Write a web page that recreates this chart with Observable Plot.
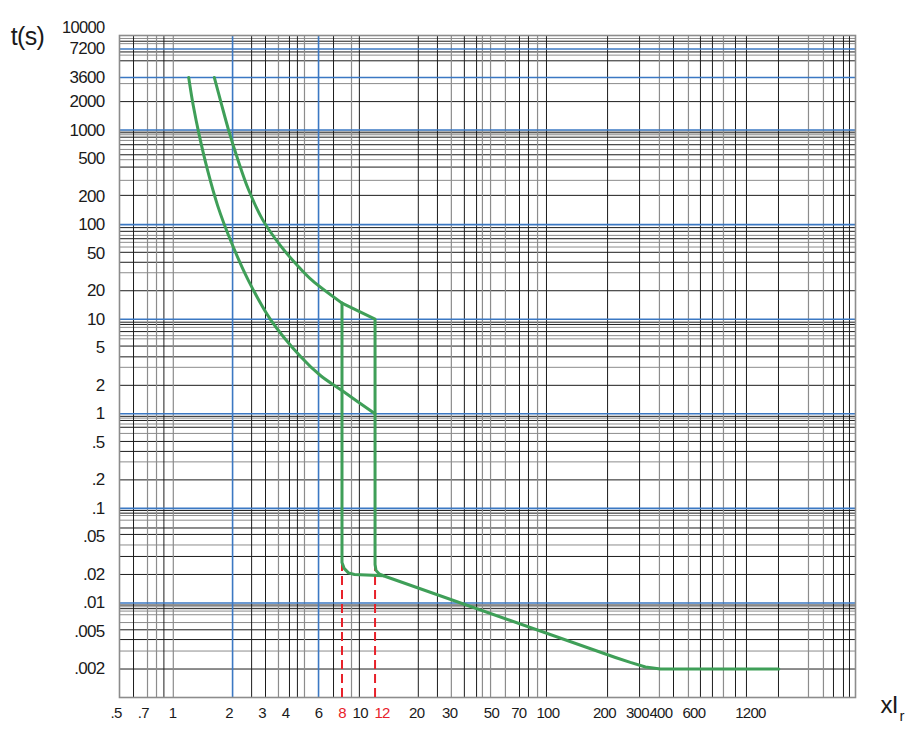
<!DOCTYPE html>
<html><head><meta charset="utf-8">
<script src="https://cdn.jsdelivr.net/npm/d3@7"></script>
<script src="https://cdn.jsdelivr.net/npm/@observablehq/plot@0.6"></script>
<style>html,body{margin:0;padding:0;background:#fff;} #chart svg{display:block;}</style>
</head><body><div id="chart"></div>
<script>
// ---- tick labels ----
const xTickValues = [0.5, 0.7, 1, 2, 3, 4, 6, 10, 20, 30, 50, 70, 100, 200, 300, 400, 600, 1200];
const xTickRedCentered = [8];
const xTickRedShifted = [12];
const yTickValues = [7200, 3600, 2000, 1000, 500, 200, 100, 50, 20, 10, 5, 2, 1, 0.5, 0.2, 0.1, 0.05, 0.02, 0.01, 0.005, 0.002];
const yTickTop = [10000];

// ---- grid lines ----
const xGridBlack = [0.62, 0.9, 2.64, 3.13, 4.2, 4.63, 7.21, 9.9, 20.4, 25.8, 35.9, 41.7, 70.6, 78.8, 98.3, 208, 308, 467, 650, 753, 999, 1143, 1693, 3324, 3758, 4045];
const xGridGray = [0.736, 0.822, 1.01, 3.67, 5.05, 8.99, 30.6, 44.8, 49.5, 59.4, 88.1, 393, 561, 862, 2446, 2939];
const xGridBlue = [2.09, 6.0];

const yGridBlue = [7200, 3600, 1000, 100, 10, 1, 0.1, 0.01];
const yGridBlack = [0.002, 0.0041, 0.0052, 0.0087, 0.0095, 0.02, 0.031, 0.053, 0.062, 0.089, 0.095,
  0.2, 0.4, 0.51, 0.72, 0.85, 0.94, 2, 4, 5.2, 7.4, 8.8, 9.3, 20, 40, 51, 71, 85, 93,
  204, 406, 548, 700, 841, 936, 2000, 5400, 6700, 8700];
const yGridGray = [0.0031, 0.0062, 0.0075, 0.0082, 0.0091, 0.041, 0.075, 0.084,
  0.31, 0.62, 0.78, 0.9, 3.1, 6.2, 6.7, 8.2, 31, 58, 65, 77,
  294, 486, 624, 777, 892, 973, 3100, 6200, 8200, 9300];

// ---- curves (x = multiple of Ir, t = seconds) ----
const upperX = [1.67, 1.82, 1.99, 2.22, 2.54, 3.02, 3.76, 4.58, 5.55, 8];
const upperT = [3600, 1905, 1000, 500, 235, 113, 60, 37.9, 25.7, 14.8];

const lowerX = [1.22, 1.29, 1.39, 1.54, 1.74, 2.04, 2.54, 3.33, 4.81, 6.14, 8, 12];
const lowerT = [3600, 1816, 873, 372, 159, 67.9, 25.6, 9.9, 4.03, 2.54, 1.76, 1.0];

const tailX = [8, 12, 12, 12.14, 12.6, 13.3, 229, 275, 331, 398, 1700];
const tailT = [14.8, 10, 0.0255, 0.0221, 0.0203, 0.0194, 0.00265, 0.00235, 0.0021, 0.002, 0.002];

const dropX = [8, 8, 8.21, 8.66, 9.32, 13.3];
const dropT = [14.8, 0.0268, 0.0232, 0.0208, 0.02, 0.0194];

const dashX = [8, 12];
const dashFrom = [0.001, 0.001];
const dashTo = [0.026, 0.025];

const rows = (xs, ts) => xs.map((x, i) => ({x, t: ts[i]}));
const dashRows = dashX.map((x, i) => ({x, t1: dashFrom[i], t2: dashTo[i]}));

const fmt = d => (d < 1 ? String(d).replace(/^0/, "") : String(d));

const green = "#3f9f58";
const red = "#e8212a";
const blue = "#3b78c3";
const black = "#1c1c1c";
const gray = "#8c8c8c";
const ink = "#1a1a1a";

const chart = Plot.plot({
  width: 911,
  height: 737,
  marginTop: 35,
  marginBottom: 40,
  marginLeft: 119,
  marginRight: 56,
  style: {fontFamily: "'Liberation Sans', Arial, sans-serif", fontSize: "16px", letterSpacing: "-0.7px", color: ink, background: "#fff"},
  x: {type: "log", domain: [0.522, 4355], axis: null},
  y: {type: "log", domain: [0.001, 10000], axis: null},
  marks: [
    Plot.ruleY(yGridGray, {stroke: gray, strokeWidth: 1}),
    Plot.ruleY(yGridBlack, {stroke: black, strokeWidth: 1}),
    Plot.ruleX(xGridGray, {stroke: gray, strokeWidth: 1.2}),
    Plot.ruleX(xGridBlack, {stroke: black, strokeWidth: 1}),
    Plot.ruleY(yGridBlue, {stroke: blue, strokeWidth: 1.6}),
    Plot.ruleX(xGridBlue, {stroke: blue, strokeWidth: 1.6}),
    Plot.frame({stroke: gray, strokeWidth: 1.6}),
    Plot.ruleX(dashRows, {x: "x", y1: "t1", y2: "t2", stroke: red, strokeWidth: 2, strokeDasharray: "9,5"}),
    Plot.line(rows(upperX, upperT), {x: "x", y: "t", stroke: green, strokeWidth: 3, curve: "catmull-rom", strokeLinejoin: "round", strokeLinecap: "round"}),
    Plot.line(rows(lowerX, lowerT), {x: "x", y: "t", stroke: green, strokeWidth: 3, curve: "catmull-rom", strokeLinejoin: "round", strokeLinecap: "round"}),
    Plot.line(rows(tailX, tailT), {x: "x", y: "t", stroke: green, strokeWidth: 3, strokeLinejoin: "round", strokeLinecap: "round"}),
    Plot.line(rows(dropX, dropT), {x: "x", y: "t", stroke: green, strokeWidth: 3, strokeLinejoin: "round", strokeLinecap: "round"}),
    // x tick labels
    Plot.text(xTickValues, {x: d => d, text: fmt, frameAnchor: "bottom", lineAnchor: "top", dy: 10, fontSize: 15, fill: ink}),
    Plot.text(xTickRedCentered, {x: d => d, text: fmt, frameAnchor: "bottom", lineAnchor: "top", dy: 10, fontSize: 15, fill: red}),
    Plot.text(xTickRedShifted, {x: d => d, text: fmt, frameAnchor: "bottom", lineAnchor: "top", dy: 10, dx: 7, fontSize: 15, fill: red}),
    // y tick labels
    Plot.text(yTickValues, {y: d => d, text: fmt, frameAnchor: "left", textAnchor: "end", dx: -15, fontSize: 17, fill: ink}),
    Plot.text(yTickTop, {y: d => d, text: fmt, frameAnchor: "left", textAnchor: "end", dx: -15, dy: -8, fontSize: 16.5, fill: ink}),
    // axis titles
    Plot.text(["t(s)"], {frameAnchor: "top-left", dx: -92, dy: -8, fontSize: 25, textAnchor: "middle", fill: ink}),
    Plot.text(["xI"], {frameAnchor: "bottom-right", dx: 25, dy: 15, fontSize: 24, textAnchor: "start", fill: ink}),
    Plot.text(["r"], {frameAnchor: "bottom-right", dx: 44, dy: 23, fontSize: 15, textAnchor: "start", fill: ink})
  ]
});
document.getElementById("chart").appendChild(chart);
</script></body></html>
